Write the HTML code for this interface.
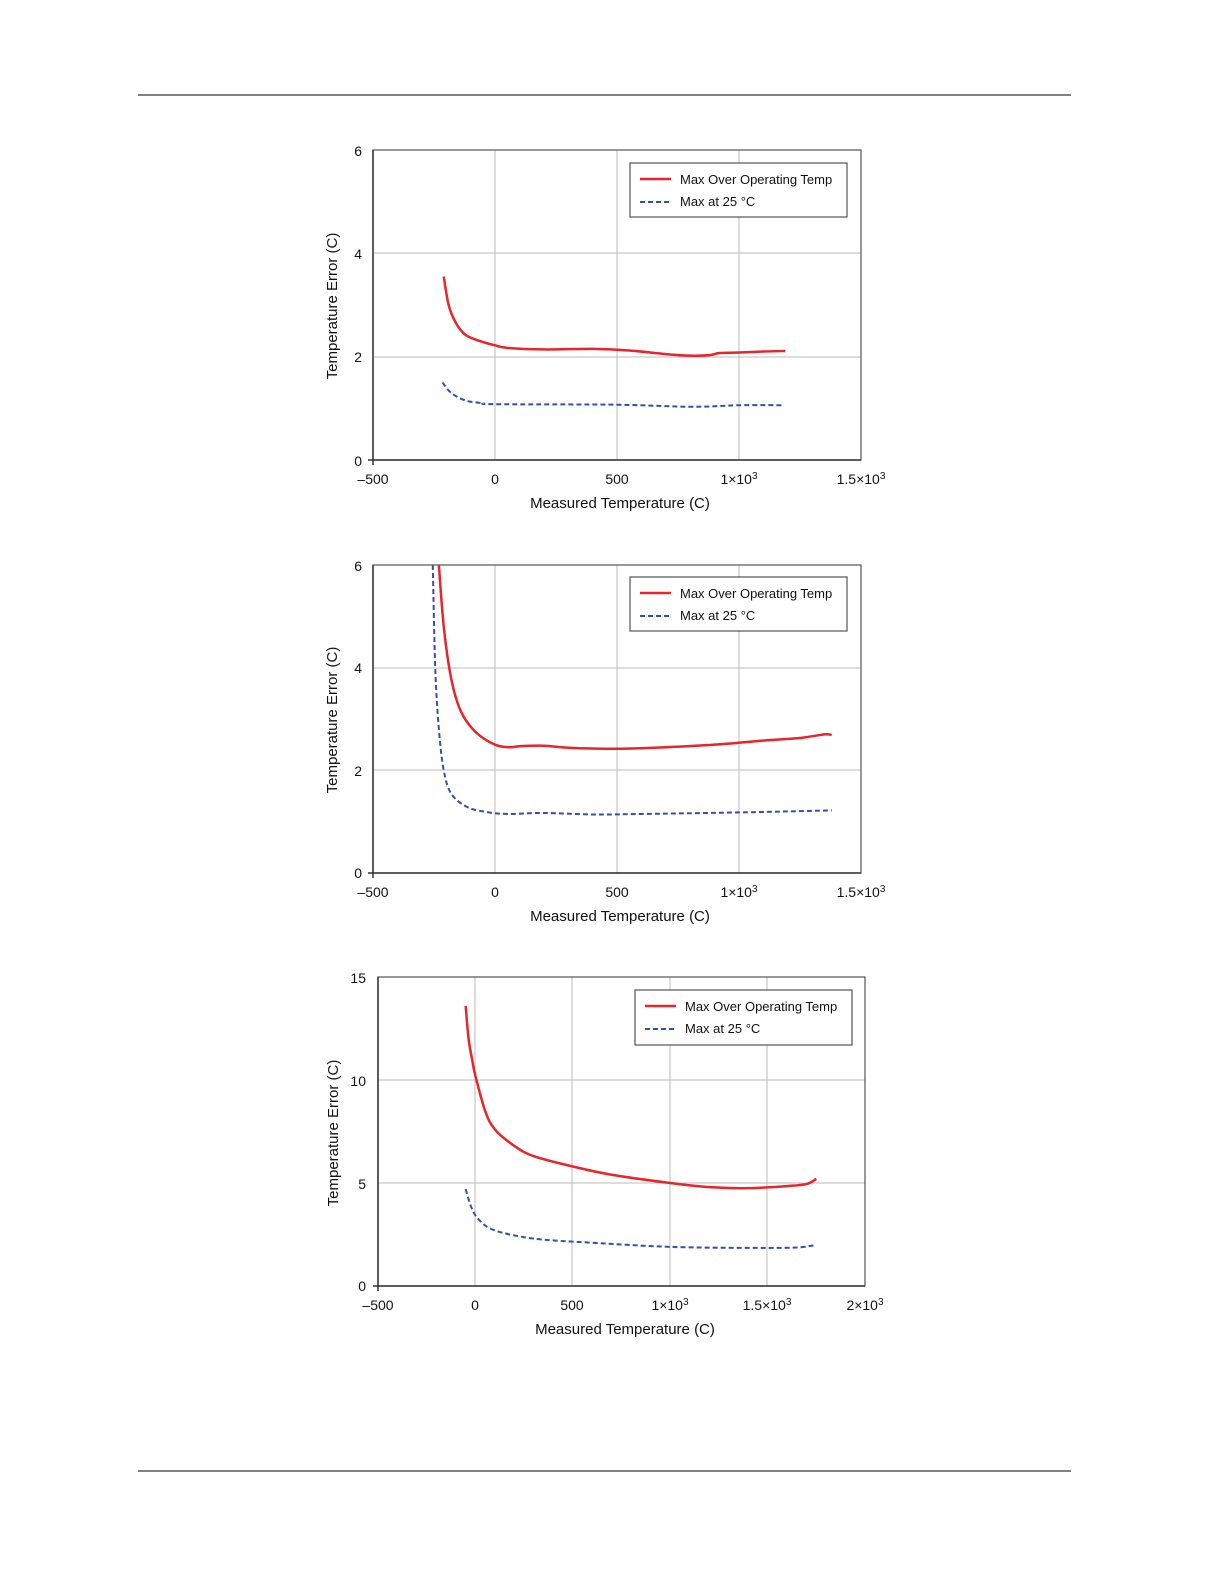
<!DOCTYPE html>
<html><head><meta charset="utf-8"><style>
html,body{margin:0;padding:0;background:#fff;overflow:hidden;width:1225px;height:1585px}
svg{display:block;font-family:"Liberation Sans",Arial,sans-serif}
</style></head><body>
<svg id="s" width="1225" height="1585" xmlns="http://www.w3.org/2000/svg">
<line x1="138" y1="95" x2="1071" y2="95" stroke="#000" stroke-width="1"/>
<line x1="138" y1="1471" x2="1071" y2="1471" stroke="#000" stroke-width="1"/>

<!-- Chart 1 -->
<g stroke="#bbb" stroke-width="1">
<line x1="495" y1="150" x2="495" y2="460"/><line x1="617" y1="150" x2="617" y2="460"/><line x1="739" y1="150" x2="739" y2="460"/>
<line x1="373" y1="253" x2="861" y2="253"/><line x1="373" y1="357" x2="861" y2="357"/>
</g>
<rect x="373" y="150" width="488" height="310" fill="none" stroke="#555" stroke-width="1.2"/>
<line x1="373" y1="150" x2="373" y2="465" stroke="#333" stroke-width="1.5"/>
<line x1="368" y1="460" x2="861" y2="460" stroke="#333" stroke-width="1.5"/>
<g font-size="14" fill="#111" text-anchor="end">
<text x="362" y="156">6</text><text x="362" y="259">4</text><text x="362" y="362">2</text><text x="362" y="466">0</text></g>
<g font-size="14" fill="#111" text-anchor="middle">
<text x="373" y="484">–500</text><text x="495" y="484">0</text><text x="617" y="484">500</text>
<text x="739" y="484">1×10<tspan font-size="10" dy="-5">3</tspan></text>
<text x="861" y="484">1.5×10<tspan font-size="10" dy="-5">3</tspan></text>
<text x="620" y="508" font-size="15">Measured Temperature (C)</text>
<text transform="translate(337,306) rotate(-90)" font-size="15">Temperature Error (C)</text></g>
<rect x="630" y="163" width="217" height="54" fill="#fff" stroke="#555" stroke-width="1.2"/>
<line x1="640" y1="179" x2="671" y2="179" stroke="#e8242c" stroke-width="2.5"/>
<line x1="640" y1="202" x2="671" y2="202" stroke="#3450a8" stroke-width="2" stroke-dasharray="5,3"/>
<text x="680" y="184" font-size="13" fill="#111">Max Over Operating Temp</text>
<text x="680" y="206" font-size="13" fill="#111">Max at 25 °C</text>

<!-- Chart 2 -->
<g stroke="#bbb" stroke-width="1">
<line x1="495" y1="565" x2="495" y2="873"/><line x1="617" y1="565" x2="617" y2="873"/><line x1="739" y1="565" x2="739" y2="873"/>
<line x1="373" y1="668" x2="861" y2="668"/><line x1="373" y1="770" x2="861" y2="770"/>
</g>
<rect x="373" y="565" width="488" height="308" fill="none" stroke="#555" stroke-width="1.2"/>
<line x1="373" y1="565" x2="373" y2="878" stroke="#333" stroke-width="1.5"/>
<line x1="368" y1="873" x2="861" y2="873" stroke="#333" stroke-width="1.5"/>
<g font-size="14" fill="#111" text-anchor="end">
<text x="362" y="571">6</text><text x="362" y="673">4</text><text x="362" y="776">2</text><text x="362" y="878">0</text></g>
<g font-size="14" fill="#111" text-anchor="middle">
<text x="373" y="897">–500</text><text x="495" y="897">0</text><text x="617" y="897">500</text>
<text x="739" y="897">1×10<tspan font-size="10" dy="-5">3</tspan></text>
<text x="861" y="897">1.5×10<tspan font-size="10" dy="-5">3</tspan></text>
<text x="620" y="921" font-size="15">Measured Temperature (C)</text>
<text transform="translate(337,720) rotate(-90)" font-size="15">Temperature Error (C)</text></g>
<rect x="630" y="577" width="217" height="54" fill="#fff" stroke="#555" stroke-width="1.2"/>
<line x1="640" y1="593" x2="671" y2="593" stroke="#e8242c" stroke-width="2.5"/>
<line x1="640" y1="616" x2="671" y2="616" stroke="#3450a8" stroke-width="2" stroke-dasharray="5,3"/>
<text x="680" y="598" font-size="13" fill="#111">Max Over Operating Temp</text>
<text x="680" y="620" font-size="13" fill="#111">Max at 25 °C</text>

<!-- Chart 3 -->
<g stroke="#bbb" stroke-width="1">
<line x1="475" y1="977" x2="475" y2="1286"/><line x1="572" y1="977" x2="572" y2="1286"/><line x1="670" y1="977" x2="670" y2="1286"/><line x1="767" y1="977" x2="767" y2="1286"/>
<line x1="378" y1="1080" x2="865" y2="1080"/><line x1="378" y1="1183" x2="865" y2="1183"/>
</g>
<rect x="378" y="977" width="487" height="309" fill="none" stroke="#555" stroke-width="1.2"/>
<line x1="378" y1="977" x2="378" y2="1291" stroke="#333" stroke-width="1.5"/>
<line x1="373" y1="1286" x2="865" y2="1286" stroke="#333" stroke-width="1.5"/>
<g font-size="14" fill="#111" text-anchor="end">
<text x="366" y="983">15</text><text x="366" y="1086">10</text><text x="366" y="1189">5</text><text x="366" y="1291">0</text></g>
<g font-size="14" fill="#111" text-anchor="middle">
<text x="378" y="1310">–500</text><text x="475" y="1310">0</text><text x="572" y="1310">500</text>
<text x="670" y="1310">1×10<tspan font-size="10" dy="-5">3</tspan></text>
<text x="767" y="1310">1.5×10<tspan font-size="10" dy="-5">3</tspan></text>
<text x="865" y="1310">2×10<tspan font-size="10" dy="-5">3</tspan></text>
<text x="625" y="1334" font-size="15">Measured Temperature (C)</text>
<text transform="translate(338,1133) rotate(-90)" font-size="15">Temperature Error (C)</text></g>
<rect x="635" y="990" width="217" height="55" fill="#fff" stroke="#555" stroke-width="1.2"/>
<line x1="645" y1="1006" x2="676" y2="1006" stroke="#e8242c" stroke-width="2.5"/>
<line x1="645" y1="1029" x2="676" y2="1029" stroke="#3450a8" stroke-width="2" stroke-dasharray="5,3"/>
<text x="685" y="1011" font-size="13" fill="#111">Max Over Operating Temp</text>
<text x="685" y="1033" font-size="13" fill="#111">Max at 25 °C</text>
</svg>
<script>
var s=document.getElementById('s');
function path(pts,fx,fy,red){
  var p=pts.map(function(a){return [fx(a[0]),fy(a[1])]});
  var d='M'+p[0][0]+','+p[0][1];
  for(var i=0;i<p.length-1;i++){
    var p0=p[i-1]||p[i],p1=p[i],p2=p[i+1],p3=p[i+2]||p2;
    d+=' C'+(p1[0]+(p2[0]-p0[0])/6)+','+(p1[1]+(p2[1]-p0[1])/6)+' '+(p2[0]-(p3[0]-p1[0])/6)+','+(p2[1]-(p3[1]-p1[1])/6)+' '+p2[0]+','+p2[1];
  }
  var e=document.createElementNS('http://www.w3.org/2000/svg','path');
  e.setAttribute('d',d);e.setAttribute('fill','none');
  if(red){e.setAttribute('stroke','#e8242c');e.setAttribute('stroke-width','2.5');}
  else{e.setAttribute('stroke','#3450a8');e.setAttribute('stroke-width','2');e.setAttribute('stroke-dasharray','5,3');}
  s.appendChild(e);
}
var f1x=function(x){return 373+(x+500)*0.244},f1y=function(y){return 460-y*51.67};
path([[-210,3.55],[-190,3.0],[-160,2.65],[-120,2.42],[-60,2.3],[0,2.22],[50,2.17],[200,2.14],[400,2.15],[550,2.12],[700,2.05],[800,2.02],[880,2.03],[920,2.07],[1000,2.08],[1100,2.1],[1190,2.11]],f1x,f1y,1);
path([[-215,1.5],[-180,1.3],[-120,1.15],[-50,1.1],[0,1.08],[500,1.07],[800,1.03],[1000,1.06],[1180,1.06]],f1x,f1y,0);
var f2y=function(y){return 873-y*51.33};
path([[-230,6],[-210,4.8],[-180,3.8],[-140,3.15],[-80,2.75],[0,2.5],[60,2.45],[100,2.47],[200,2.48],[300,2.44],[500,2.42],[700,2.45],[900,2.5],[1100,2.58],[1250,2.63],[1350,2.7],[1380,2.69]],f1x,f2y,1);
path([[-255,6],[-245,4],[-230,2.8],[-210,2.0],[-180,1.55],[-120,1.3],[-50,1.2],[50,1.15],[200,1.17],[400,1.14],[600,1.15],[1000,1.18],[1200,1.2],[1380,1.22]],f1x,f2y,0);
var f3x=function(x){return 378+(x+500)*0.1948},f3y=function(y){return 1286-y*20.6};
path([[-50,13.6],[-35,12.0],[-15,10.9],[0,10.2],[50,8.5],[100,7.6],[200,6.8],[300,6.3],[500,5.8],[700,5.4],[1000,5.0],[1200,4.8],[1400,4.75],[1600,4.85],[1700,4.95],[1750,5.2]],f3x,f3y,1);
path([[-50,4.7],[-20,3.8],[20,3.2],[100,2.7],[300,2.3],[600,2.1],[1000,1.9],[1400,1.85],[1650,1.87],[1750,2.0]],f3x,f3y,0);
</script>
</body></html>
